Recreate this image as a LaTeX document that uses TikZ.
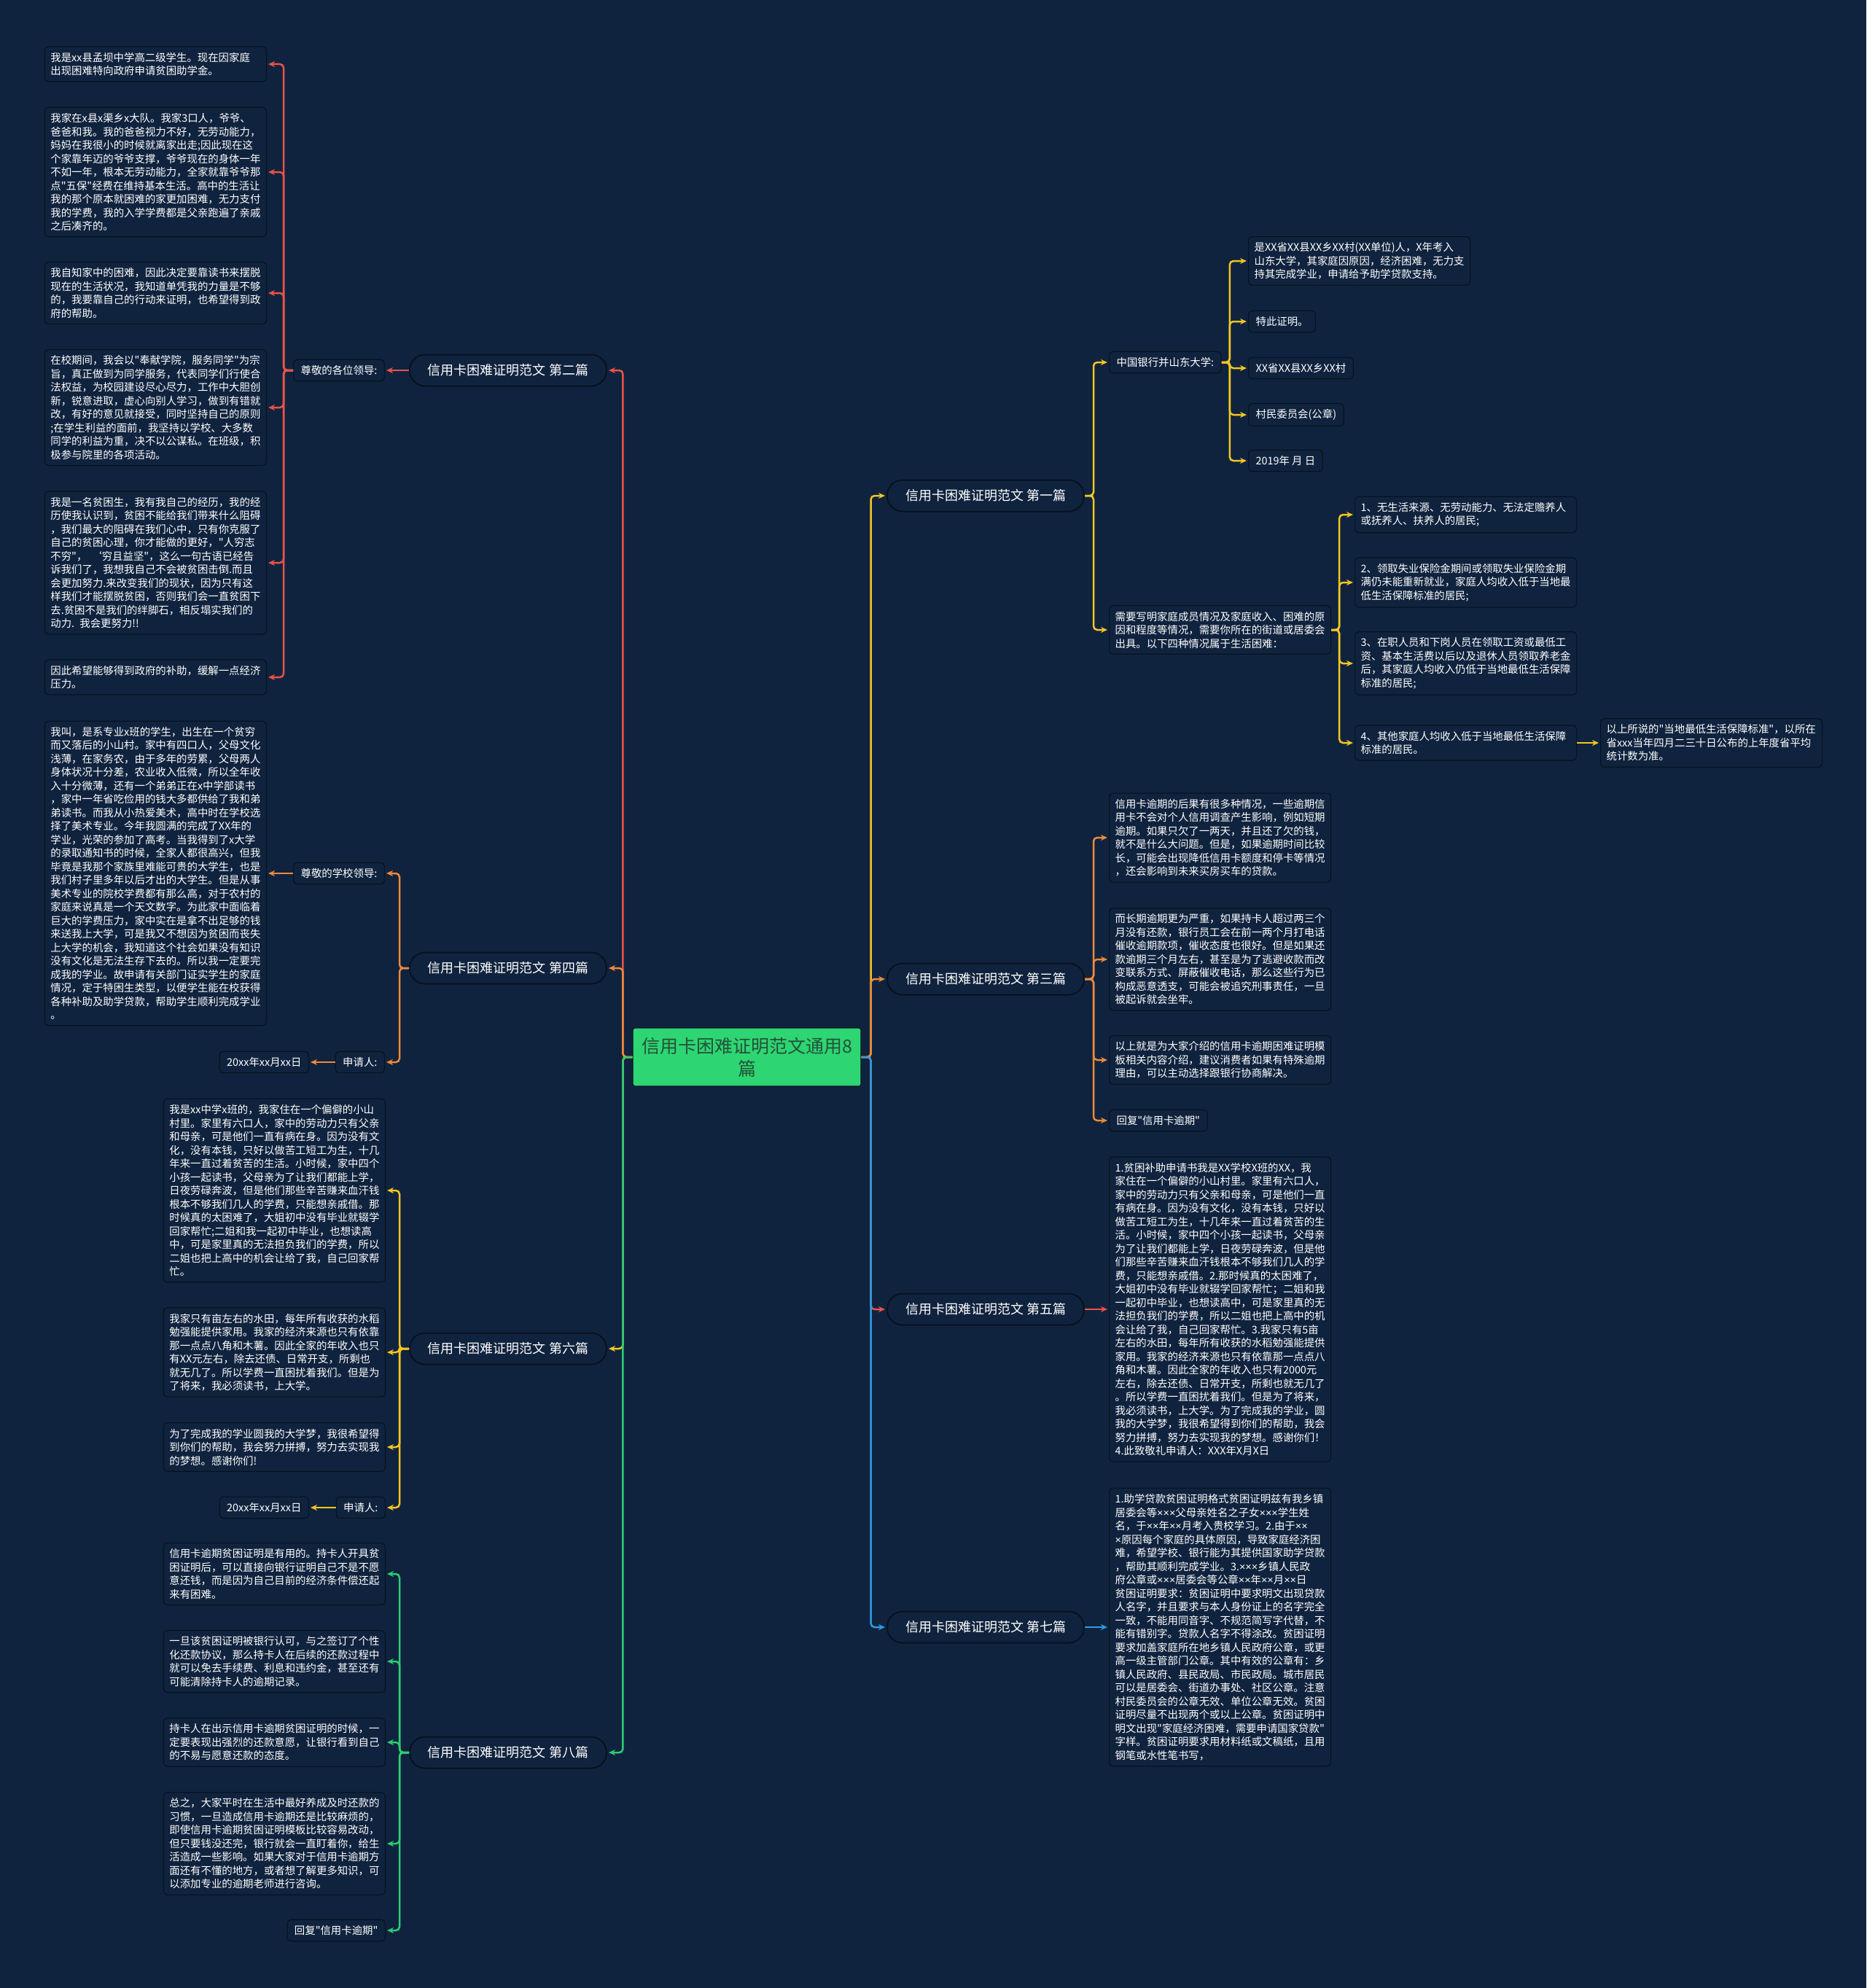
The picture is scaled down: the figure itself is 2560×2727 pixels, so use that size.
\documentclass[tikz,border=0pt]{standalone}
\usepackage{fontspec}
\newfontfamily\cjk{Noto Sans CJK SC}
\newfontfamily\lat{Liberation Sans}
\newcommand\mx{{\lat ×}}
\usetikzlibrary{arrows.meta}
\definecolor{bg}{HTML}{10233E}
\definecolor{bdr}{HTML}{07121F}
\definecolor{cred}{HTML}{E8534A}
\definecolor{corange}{HTML}{EE8A3C}
\definecolor{cyellow}{HTML}{F3C623}
\definecolor{cgreen}{HTML}{2ECC71}
\definecolor{cblue}{HTML}{2E9BE0}
\definecolor{cgreenfill}{HTML}{2ED573}
\definecolor{ctitle}{HTML}{245237}
\begin{document}
\begin{tikzpicture}[x=1pt,y=-1pt,
  every node/.style={font=\cjk\fontsize{14.4}{18.5}\selectfont, text=white},
  txt/.style={draw=bdr, fill=bg, line width=1.2pt, rounded corners=5pt, inner xsep=8pt, inner ysep=8pt, text width=288pt, align=left},
  lbl/.style={draw=bdr, fill=bg, line width=1.2pt, rounded corners=5pt, inner xsep=10pt, inner ysep=8pt},
  branch/.style={draw=bdr, fill=bg, line width=2pt, rounded corners=21pt, minimum width=270pt, minimum height=43pt, inner sep=0pt, font=\cjk\fontsize{18}{22}\selectfont},
  conn/.style={line width=2.5pt, rounded corners=5pt, -{Stealth[length=9pt,width=8pt]}, shorten >=2pt}
]
\fill[bg] (0,0) rectangle (2560,2727);
\useasboundingbox (0,0) rectangle (2560,2727);

% center
\node[draw=bdr, fill=cgreenfill, line width=1.2pt, rounded corners=3pt, minimum width=313pt, minimum height=80pt, text width=295pt, align=center, inner sep=0pt, text=ctitle, font=\cjk\fontsize{25}{31}\selectfont] (c) at (1024.5,1450) {信用卡困难证明范文通用8\\篇};

% branches
\node[branch, anchor=east] (b2) at (833,508) {信用卡困难证明范文 第二篇};
\node[branch, anchor=east] (b4) at (833,1328) {信用卡困难证明范文 第四篇};
\node[branch, anchor=east] (b6) at (833,1850) {信用卡困难证明范文 第六篇};
\node[branch, anchor=east] (b8) at (833,2404) {信用卡困难证明范文 第八篇};
\node[branch, anchor=west] (b1) at (1216,680) {信用卡困难证明范文 第一篇};
\node[branch, anchor=west] (b3) at (1216,1343) {信用卡困难证明范文 第三篇};
\node[branch, anchor=west] (b5) at (1216,1796) {信用卡困难证明范文 第五篇};
\node[branch, anchor=west] (b7) at (1216,2232) {信用卡困难证明范文 第七篇};

% ---- branch 2
\node[lbl, anchor=east] (l2) at (528,508) {尊敬的各位领导:};
\node[txt, anchor=east] (t21) at (366,88) {我是xx县孟坝中学高二级学生。现在因家庭\\出现困难特向政府申请贫困助学金。};
\node[txt, anchor=east] (t22) at (366,236) {我家在x县x渠乡x大队。我家3口人，爷爷、\\爸爸和我。我的爸爸视力不好，无劳动能力，\\妈妈在我很小的时候就离家出走;因此现在这\\个家靠年迈的爷爷支撑，爷爷现在的身体一年\\不如一年，根本无劳动能力，全家就靠爷爷那\\点"五保"经费在维持基本生活。高中的生活让\\我的那个原本就困难的家更加困难，无力支付\\我的学费，我的入学学费都是父亲跑遍了亲戚\\之后凑齐的。};
\node[txt, anchor=east] (t23) at (366,402) {我自知家中的困难，因此决定要靠读书来摆脱\\现在的生活状况，我知道单凭我的力量是不够\\的，我要靠自己的行动来证明，也希望得到政\\府的帮助。};
\node[txt, anchor=east] (t24) at (366,559) {在校期间，我会以"奉献学院，服务同学"为宗\\旨，真正做到为同学服务，代表同学们行使合\\法权益，为校园建设尽心尽力，工作中大胆创\\新，锐意进取，虚心向别人学习，做到有错就\\改，有好的意见就接受，同时坚持自己的原则\\;在学生利益的面前，我坚持以学校、大多数\\同学的利益为重，决不以公谋私。在班级，积\\极参与院里的各项活动。};
\node[txt, anchor=east] (t25) at (366,772) {我是一名贫困生，我有我自己的经历，我的经\\历使我认识到，贫困不能给我们带来什么阻碍\\，我们最大的阻碍在我们心中，只有你克服了\\自己的贫困心理，你才能做的更好，"人穷志\\不穷"，\kern6pt‘穷且益坚"，这么一句古语已经告\\诉我们了，我想我自己不会被贫困击倒.而且\\会更加努力.来改变我们的现状，因为只有这\\样我们才能摆脱贫困，否则我们会一直贫困下\\去.贫困不是我们的绊脚石，相反塌实我们的\\动力. 我会更努力!!};
\node[txt, anchor=east] (t26) at (366,929) {因此希望能够得到政府的补助，缓解一点经济\\压力。};

% ---- branch 4
\node[lbl, anchor=east] (l4) at (528,1198) {尊敬的学校领导:};
\node[txt, anchor=east] (t41) at (366,1198) {我叫，是系专业x班的学生，出生在一个贫穷\\而又落后的小山村。家中有四口人，父母文化\\浅薄，在家务农，由于多年的劳累，父母两人\\身体状况十分差，农业收入低微，所以全年收\\入十分微薄，还有一个弟弟正在x中学部读书\\，家中一年省吃俭用的钱大多都供给了我和弟\\弟读书。而我从小热爱美术，高中时在学校选\\择了美术专业。今年我圆满的完成了XX年的\\学业，光荣的参加了高考。当我得到了x大学\\的录取通知书的时候，全家人都很高兴，但我\\毕竟是我那个家族里难能可贵的大学生，也是\\我们村子里多年以后才出的大学生。但是从事\\美术专业的院校学费都有那么高，对于农村的\\家庭来说真是一个天文数字。为此家中面临着\\巨大的学费压力，家中实在是拿不出足够的钱\\来送我上大学，可是我又不想因为贫困而丧失\\上大学的机会，我知道这个社会如果没有知识\\没有文化是无法生存下去的。所以我一定要完\\成我的学业。故申请有关部门证实学生的家庭\\情况，定于特困生类型，以便学生能在校获得\\各种补助及助学贷款，帮助学生顺利完成学业\\。};
\node[lbl, anchor=east] (a4) at (528,1457) {申请人:};
\node[lbl, anchor=east] (d4) at (424,1457) {20xx年xx月xx日};

% ---- branch 6
\node[txt, anchor=east] (t61) at (529,1633) {我是xx中学x班的，我家住在一个偏僻的小山\\村里。家里有六口人，家中的劳动力只有父亲\\和母亲，可是他们一直有病在身。因为没有文\\化，没有本钱，只好以做苦工短工为生，十几\\年来一直过着贫苦的生活。小时候，家中四个\\小孩一起读书，父母亲为了让我们都能上学，\\日夜劳碌奔波，但是他们那些辛苦赚来血汗钱\\根本不够我们几人的学费，只能想亲戚借。那\\时候真的太困难了，大姐初中没有毕业就辍学\\回家帮忙;二姐和我一起初中毕业，也想读高\\中，可是家里真的无法担负我们的学费，所以\\二姐也把上高中的机会让给了我，自己回家帮\\忙。};
\node[txt, anchor=east] (t62) at (529,1855) {我家只有亩左右的水田，每年所有收获的水稻\\勉强能提供家用。我家的经济来源也只有依靠\\那一点点八角和木薯。因此全家的年收入也只\\有XX元左右，除去还债、日常开支，所剩也\\就无几了。所以学费一直困扰着我们。但是为\\了将来，我必须读书，上大学。};
\node[txt, anchor=east] (t63) at (529,1985) {为了完成我的学业圆我的大学梦，我很希望得\\到你们的帮助，我会努力拼搏，努力去实现我\\的梦想。感谢你们!};
\node[lbl, anchor=east] (a6) at (529,2068) {申请人:};
\node[lbl, anchor=east] (d6) at (424,2068) {20xx年xx月xx日};

% ---- branch 8
\node[txt, anchor=east] (t81) at (529,2159) {信用卡逾期贫困证明是有用的。持卡人开具贫\\困证明后，可以直接向银行证明自己不是不愿\\意还钱，而是因为自己目前的经济条件偿还起\\来有困难。};
\node[txt, anchor=east] (t82) at (529,2279) {一旦该贫困证明被银行认可，与之签订了个性\\化还款协议，那么持卡人在后续的还款过程中\\就可以免去手续费、利息和违约金，甚至还有\\可能清除持卡人的逾期记录。};
\node[txt, anchor=east] (t83) at (529,2390) {持卡人在出示信用卡逾期贫困证明的时候，一\\定要表现出强烈的还款意愿，让银行看到自己\\的不易与愿意还款的态度。};
\node[txt, anchor=east] (t84) at (529,2529) {总之，大家平时在生活中最好养成及时还款的\\习惯，一旦造成信用卡逾期还是比较麻烦的，\\即使信用卡逾期贫困证明模板比较容易改动，\\但只要钱没还完，银行就会一直盯着你，给生\\活造成一些影响。如果大家对于信用卡逾期方\\面还有不懂的地方，或者想了解更多知识，可\\以添加专业的逾期老师进行咨询。};
\node[lbl, anchor=east] (t85) at (529,2648) {回复"信用卡逾期"};

% ---- branch 1
\node[lbl, anchor=west] (r1a) at (1521,497) {中国银行并山东大学:};
\node[txt, anchor=west] (f1) at (1712,358) {是XX省XX县XX乡XX村(XX单位)人，X年考入\\山东大学，其家庭因原因，经济困难，无力支\\持其完成学业，申请给予助学贷款支持。};
\node[lbl, anchor=west] (f2) at (1712,441) {特此证明。};
\node[lbl, anchor=west] (f3) at (1712,505) {XX省XX县XX乡XX村};
\node[lbl, anchor=west] (f4) at (1712,569) {村民委员会(公章)};
\node[lbl, anchor=west] (f5) at (1712,632) {2019年 月 日};
\node[txt, anchor=west] (r1b) at (1521,864) {需要写明家庭成员情况及家庭收入、困难的原\\因和程度等情况，需要你所在的街道或居委会\\出具。以下四种情况属于生活困难：};
\node[txt, anchor=west] (n1) at (1858,706) {1、无生活来源、无劳动能力、无法定赡养人\\或抚养人、扶养人的居民;};
\node[txt, anchor=west] (n2) at (1858,799) {2、领取失业保险金期间或领取失业保险金期\\满仍未能重新就业，家庭人均收入低于当地最\\低生活保障标准的居民;};
\node[txt, anchor=west] (n3) at (1858,910) {3、在职人员和下岗人员在领取工资或最低工\\资、基本生活费以后以及退休人员领取养老金\\后，其家庭人均收入仍低于当地最低生活保障\\标准的居民;};
\node[txt, anchor=west] (n4) at (1858,1019) {4、其他家庭人均收入低于当地最低生活保障\\标准的居民。};
\node[txt, anchor=west] (n4a) at (2195,1019) {以上所说的"当地最低生活保障标准"，以所在\\省xxx当年四月二三十日公布的上年度省平均\\统计数为准。};

% ---- branch 3
\node[txt, anchor=west] (t31) at (1521,1149) {信用卡逾期的后果有很多种情况，一些逾期信\\用卡不会对个人信用调查产生影响，例如短期\\逾期。如果只欠了一两天，并且还了欠的钱，\\就不是什么大问题。但是，如果逾期时间比较\\长，可能会出现降低信用卡额度和停卡等情况\\，还会影响到未来买房买车的贷款。};
\node[txt, anchor=west] (t32) at (1521,1316) {而长期逾期更为严重，如果持卡人超过两三个\\月没有还款，银行员工会在前一两个月打电话\\催收逾期款项，催收态度也很好。但是如果还\\款逾期三个月左右，甚至是为了逃避收款而改\\变联系方式、屏蔽催收电话，那么这些行为已\\构成恶意透支，可能会被追究刑事责任，一旦\\被起诉就会坐牢。};
\node[txt, anchor=west] (t33) at (1521,1454) {以上就是为大家介绍的信用卡逾期困难证明模\\板相关内容介绍，建议消费者如果有特殊逾期\\理由，可以主动选择跟银行协商解决。};
\node[lbl, anchor=west] (t34) at (1521,1537) {回复"信用卡逾期"};

% ---- branch 5
\node[txt, anchor=west] (t51) at (1521,1796) {1.贫困补助申请书我是XX学校X班的XX，我\\家住在一个偏僻的小山村里。家里有六口人，\\家中的劳动力只有父亲和母亲，可是他们一直\\有病在身。因为没有文化，没有本钱，只好以\\做苦工短工为生，十几年来一直过着贫苦的生\\活。小时候，家中四个小孩一起读书，父母亲\\为了让我们都能上学，日夜劳碌奔波，但是他\\们那些辛苦赚来血汗钱根本不够我们几人的学\\费，只能想亲戚借。2.那时候真的太困难了，\\大姐初中没有毕业就辍学回家帮忙；二姐和我\\一起初中毕业，也想读高中，可是家里真的无\\法担负我们的学费，所以二姐也把上高中的机\\会让给了我，自己回家帮忙。3.我家只有5亩\\左右的水田，每年所有收获的水稻勉强能提供\\家用。我家的经济来源也只有依靠那一点点八\\角和木薯。因此全家的年收入也只有2000元\\左右，除去还债、日常开支，所剩也就无几了\\。所以学费一直困扰着我们。但是为了将来，\\我必须读书，上大学。为了完成我的学业，圆\\我的大学梦，我很希望得到你们的帮助，我会\\努力拼搏，努力去实现我的梦想。感谢你们！\\4.此致敬礼申请人：XXX年X月X日};

% ---- branch 7
\node[txt, anchor=west] (t71) at (1521,2232) {1.助学贷款贫困证明格式贫困证明兹有我乡镇\\居委会等\mx\mx\mx 父母亲姓名之子女\mx\mx\mx 学生姓\\名，于\mx\mx 年\mx\mx 月考入贵校学习。2.由于\mx\mx\\\mx 原因每个家庭的具体原因，导致家庭经济困\\难，希望学校、银行能为其提供国家助学贷款\\，帮助其顺利完成学业。3.\mx\mx\mx 乡镇人民政\\府公章或\mx\mx\mx 居委会等公章\mx\mx 年\mx\mx 月\mx\mx 日\\贫困证明要求：贫困证明中要求明文出现贷款\\人名字，并且要求与本人身份证上的名字完全\\一致，不能用同音字、不规范简写字代替，不\\能有错别字。贷款人名字不得涂改。贫困证明\\要求加盖家庭所在地乡镇人民政府公章，或更\\高一级主管部门公章。其中有效的公章有：乡\\镇人民政府、县民政局、市民政局。城市居民\\可以是居委会、街道办事处、社区公章。注意\\村民委员会的公章无效、单位公章无效。贫困\\证明尽量不出现两个或以上公章。贫困证明中\\明文出现"家庭经济困难，需要申请国家贷款"\\字样。贫困证明要求用材料纸或文稿纸，且用\\钢笔或水性笔书写，};

% ===== connectors: center to branches
\draw[conn, cred] (c.west) -- ++(-13,0) |- (b2.east);
\draw[conn, cyellow] (c.west) -- ++(-13,0) |- (b6.east);
\draw[conn, corange] (c.west) -- ++(-13,0) |- (b4.east);
\draw[conn, cgreen] (c.west) -- ++(-13,0) |- (b8.east);
\draw[conn, cyellow] (c.east) -- ++(13,0) |- (b1.west);
\draw[conn, cred] (c.east) -- ++(13,0) |- (b5.west);
\draw[conn, corange] (c.east) -- ++(13,0) |- (b3.west);
\draw[conn, cblue] (c.east) -- ++(13,0) |- (b7.west);

% branch 2
\draw[conn, cred] (b2.west) -- (l2.east);
\foreach \t in {t21,t22,t23,t24,t25,t26} \draw[conn, cred] (l2.west) -- ++(-13,0) |- (\t.east);
% branch 4
\foreach \t in {l4,a4} \draw[conn, corange] (b4.west) -- ++(-13,0) |- (\t.east);
\draw[conn, corange] (l4.west) -- (t41.east);
\draw[conn, corange] (a4.west) -- (d4.east);
% branch 6
\foreach \t in {t61,t62,t63,a6} \draw[conn, cyellow] (b6.west) -- ++(-13,0) |- (\t.east);
\draw[conn, cyellow] (a6.west) -- (d6.east);
% branch 8
\foreach \t in {t81,t82,t83,t84,t85} \draw[conn, cgreen] (b8.west) -- ++(-13,0) |- (\t.east);
% branch 1
\foreach \t in {r1a,r1b} \draw[conn, cyellow] (b1.east) -- ++(12,0) |- (\t.west);
\foreach \t in {f1,f2,f3,f4,f5} \draw[conn, cyellow] (r1a.east) -- ++(11,0) |- (\t.west);
\foreach \t in {n1,n2,n3,n4} \draw[conn, cyellow] (r1b.east) -- ++(11,0) |- (\t.west);
\draw[conn, cyellow] (n4.east) -- (n4a.west);
% branch 3
\foreach \t in {t31,t32,t33,t34} \draw[conn, corange] (b3.east) -- ++(12,0) |- (\t.west);
% branch 5, 7
\draw[conn, cred] (b5.east) -- (t51.west);
\draw[conn, cblue] (b7.east) -- (t71.west);
\end{tikzpicture}
\end{document}
